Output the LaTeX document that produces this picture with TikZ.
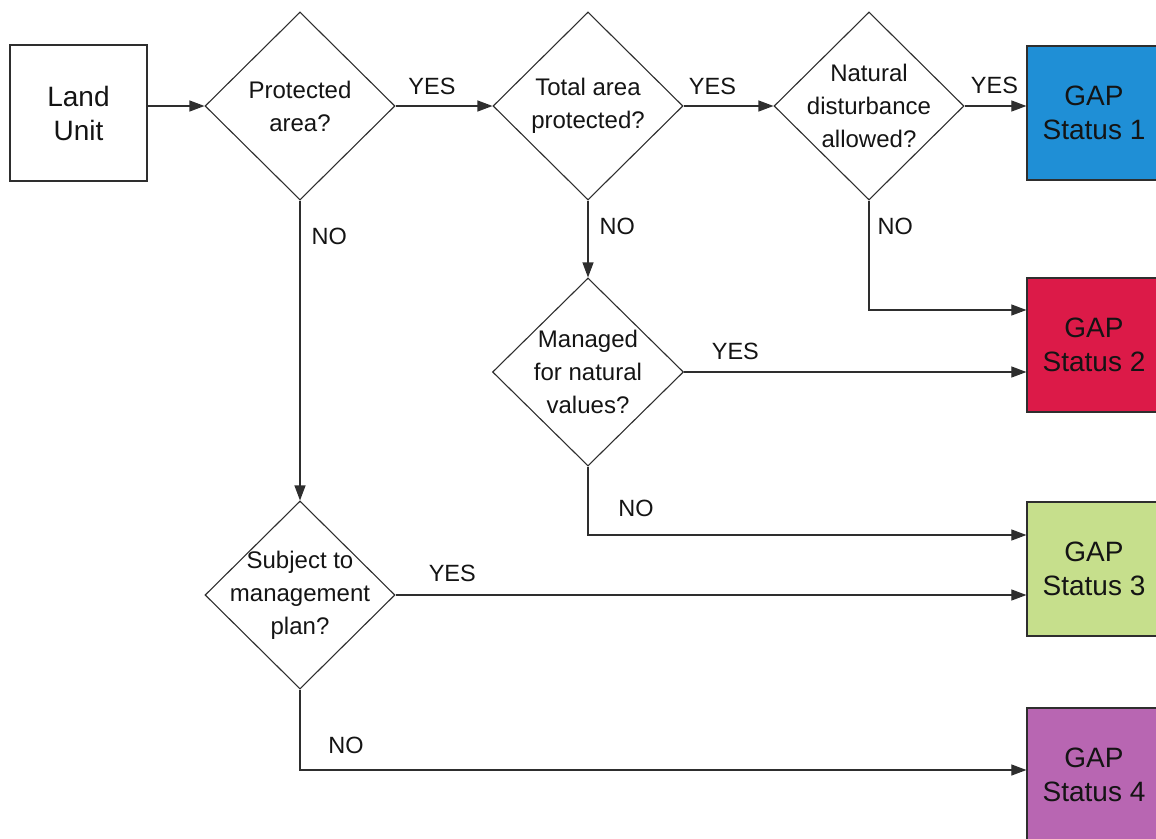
\documentclass[tikz,border=0pt]{standalone}
\usepackage{fontspec}
\setmainfont{Liberation Sans}
\usetikzlibrary{shapes.geometric,arrows.meta}
\definecolor{gapA}{HTML}{1F8FD6}
\definecolor{gapB}{HTML}{DC1A48}
\definecolor{gapC}{HTML}{C6DF8C}
\definecolor{gapD}{HTML}{B866B2}
\definecolor{ln}{HTML}{2E2E2E}
\begin{document}
\begin{tikzpicture}[x=1pt,y=-1pt,
  every node/.style={font=\fontsize{24}{33}\selectfont, text=black!92},
  boxnode/.style={draw=ln, line width=1.2pt, minimum width=134pt, minimum height=134pt, inner sep=0pt, align=center, font=\fontsize{28}{34}\selectfont},
  dia/.style={diamond, draw=ln, line width=1.1pt, minimum width=190pt, minimum height=188pt, inner sep=0pt},
  lbl/.style={font=\fontsize{23.5}{28}\selectfont, inner sep=0pt},
  arr/.style={draw=ln, line width=1.1pt, -{Triangle[length=15pt,width=11pt]}}
]
\useasboundingbox (0,0) rectangle (1156,838);
\clip (0,0) rectangle (1156,838);
% boxes
\node[boxnode, minimum width=137pt, minimum height=136pt, font=\fontsize{28}{34}\selectfont] (lu) at (78.5,113) {Land\\Unit};
\node[boxnode, fill=gapA] (g1) at (1094,113) {GAP\\Status 1};
\node[boxnode, fill=gapB] (g2) at (1094,345) {GAP\\Status 2};
\node[boxnode, fill=gapC] (g3) at (1094,569) {GAP\\Status 3};
\node[boxnode, fill=gapD, minimum height=134pt] (g4) at (1094,775) {GAP\\Status 4};
% diamonds
\node[dia, label={[align=center, name=t1]center:Protected\\area?}] (d1) at (300,106) {};
\node[dia, label={[align=center, name=t2]center:Total area\\protected?}] (d2) at (588,106) {};
\node[dia, label={[align=center, name=t3]center:Natural\\disturbance\\allowed?}] (d3) at (869,106) {};
\node[dia, minimum width=191pt, label={[align=center, name=t4]center:Managed\\for natural\\values?}] (d4) at (588,372) {};
\node[dia, label={[align=center, name=t5]center:Subject to\\management\\plan?}] (d5) at (300,595) {};
% connectors
\draw[arr] (lu.east |- d1.west) -- (d1.west);
\draw[arr] (d1.east) -- node[lbl, above=11pt, xshift=-12pt] (y1) {YES} (d2.west);
\draw[arr] (d2.east) -- node[lbl, above=11pt, xshift=-16pt] (y2) {YES} (d3.west);
\draw[arr] (d3.east) -- node[lbl, above=12pt, xshift=-1pt] (y3) {YES} (g1.west |- d3.east);
\draw[arr] (d1.south) -- node[lbl, pos=0.12, right=11pt] (n1) {NO} (d5.north);
\draw[arr] (d2.south) -- node[lbl, pos=0.33, right=11pt] (n2) {NO} (d4.north);
\coordinate (c3) at (d3.south |- 0,310);
\draw[arr] (d3.south) -- node[lbl, pos=0.24, right=8pt] (n3) {NO} (c3) -- (g2.west |- c3);
\draw[arr] (d4.east) -- node[lbl, pos=0.15, above=12pt] (y4) {YES} (g2.west |- d4.east);
\coordinate (c4) at (d4.south |- 0,535);
\draw[arr] (d4.south) -- (c4) -- (g3.west |- c4);
\node[lbl] (n4) at (636,508) {NO};
\draw[arr] (d5.east) -- node[lbl, pos=0.09, above=13pt] (y5) {YES} (g3.west |- d5.east);
\coordinate (c5) at (d5.south |- 0,770);
\draw[arr] (d5.south) -- (c5) -- (g4.west |- c5);
\node[lbl] (n5) at (346,745) {NO};
\end{tikzpicture}
\end{document}
